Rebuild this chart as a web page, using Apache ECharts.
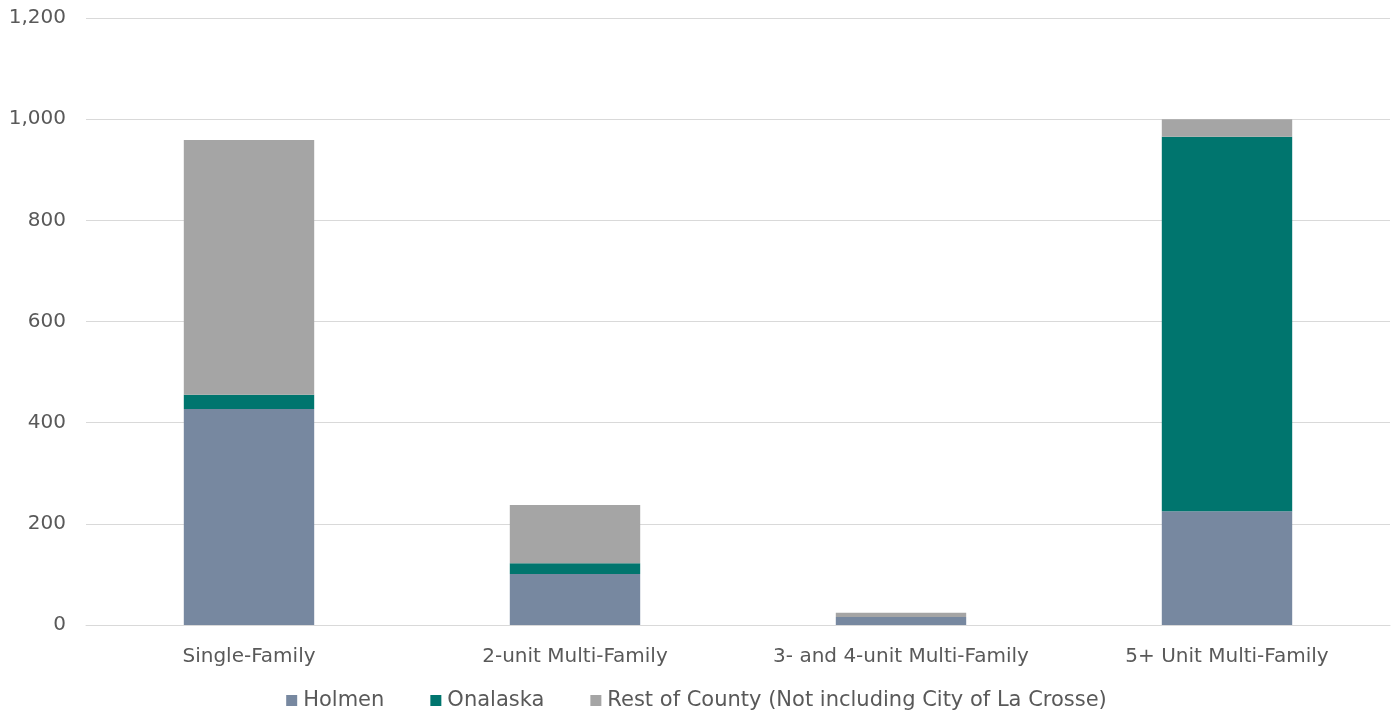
<!DOCTYPE html>
<html>
<head>
<meta charset="utf-8">
<script src="https://cdn.jsdelivr.net/npm/echarts@6/dist/echarts.min.js"></script>
<style>html,body{margin:0;padding:0;background:#fff;}#c{width:1393px;height:718px;}</style>
</head>
<body>
<div id="c"></div>
<script>
const categories = ["Single-Family", "2-unit Multi-Family", "3- and 4-unit Multi-Family", "5+ Unit Multi-Family"];
const holmen = [427, 101, 16, 225];
const onalaska = [28, 21, 0, 740];
const restOfCounty = [504, 115, 8, 35];
const seriesNames = ["Holmen", "Onalaska", "Rest of County (Not including City of La Crosse)"];
const colors = ["#7788a0", "#00756e", "#a5a5a5"];

const chart = echarts.init(document.getElementById('c'));
const font = "'DejaVu Sans', sans-serif";
chart.setOption({
  animation: false,
  grid: {left: 86, right: 3, top: 18, bottom: 93, containLabel: false},
  legend: {
    bottom: 2, left: 'center',
    itemWidth: 11, itemHeight: 11, itemGap: 46,
    icon: 'rect',
    textStyle: {fontFamily: font, fontSize: 21, color: '#595959', padding: [0,0,0,1]},
    data: seriesNames
  },
  xAxis: {
    type: 'category', data: categories,
    axisLine: {lineStyle: {color: '#d9d9d9', width: 1}},
    axisTick: {show: false},
    axisLabel: {fontFamily: font, fontSize: 20, color: '#595959', margin: 22, interval: 0}
  },
  yAxis: {
    type: 'value', min: 0, max: 1200, interval: 200,
    axisLine: {show: false}, axisTick: {show: false},
    splitLine: {lineStyle: {color: '#d9d9d9', width: 1}},
    axisLabel: {fontFamily: font, fontSize: 20, color: '#595959', margin: 20,
      formatter: v => v.toLocaleString('en-US')}
  },
  series: [
    {name: seriesNames[0], type: 'bar', stack: 's', data: holmen, barWidth: '40%', itemStyle: {color: colors[0]}},
    {name: seriesNames[1], type: 'bar', stack: 's', data: onalaska, barWidth: '40%', itemStyle: {color: colors[1]}},
    {name: seriesNames[2], type: 'bar', stack: 's', data: restOfCounty, barWidth: '40%', itemStyle: {color: colors[2]}}
  ]
});
</script>
</body>
</html>
